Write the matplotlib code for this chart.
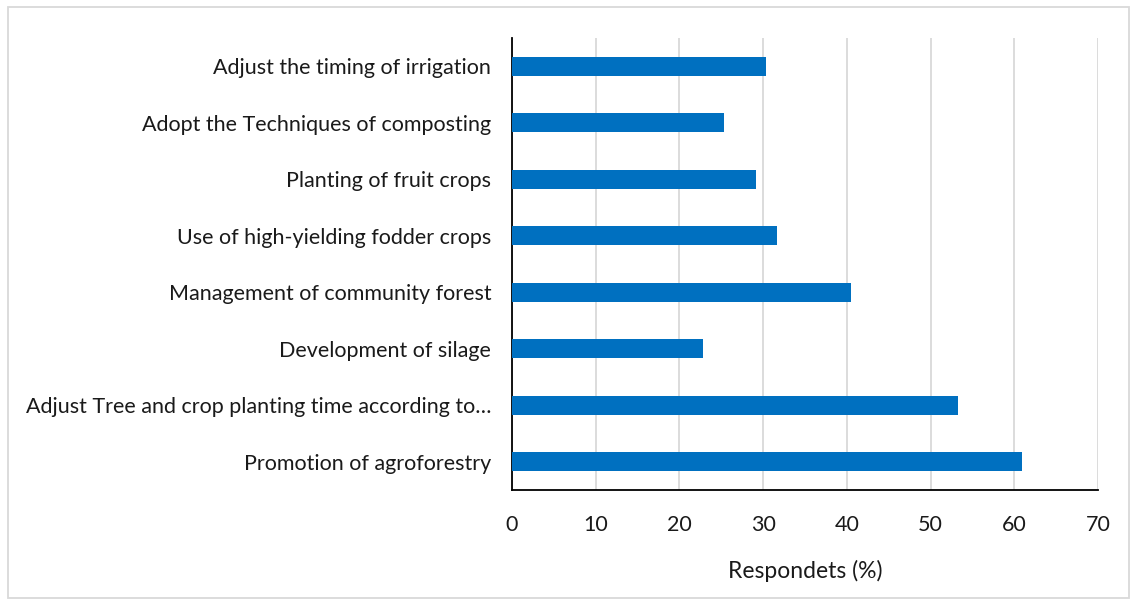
import matplotlib
matplotlib.use("Agg")
import matplotlib.pyplot as plt
from matplotlib.patches import Rectangle

labels = ["Promotion of agroforestry",
          "Adjust Tree and crop planting time according to…",
          "Development of silage",
          "Management of community forest",
          "Use of high-yielding fodder crops",
          "Planting of fruit crops",
          "Adopt the Techniques of composting",
          "Adjust the timing of irrigation"]
values = [60.9, 53.3, 22.8, 40.5, 31.6, 29.1, 25.3, 30.4]
xticks = [0, 10, 20, 30, 40, 50, 60, 70]

plt.rcParams.update({"font.family": ["Lato", "DejaVu Sans"], "font.size": 15.5})
BLUE = "#0070c0"

fig = plt.figure(figsize=(11.31, 6), dpi=100)
ax = fig.add_axes([512/1131, 1-490/600, (1098-512)/1131, (490-38)/600])
ax.barh(range(len(values)), values, height=0.34, color=BLUE, zorder=3)
ax.set_yticks(range(len(labels)))
ax.set_yticklabels(labels, color="#1a1a1a")
ax.set_ylim(-0.5, len(values)-0.5)
ax.set_xlim(0, 70)
ax.set_xticks(xticks)
ax.tick_params(length=0, pad=18, axis="x", labelcolor="#1a1a1a")
ax.tick_params(length=0, pad=15, axis="y")
ax.grid(axis="x", color="#d9d9d9", linewidth=1.3, zorder=0)
ax.grid(axis="y", visible=False)
for s in ["top", "right"]:
    ax.spines[s].set_visible(False)
for s in ["left", "bottom"]:
    ax.spines[s].set_color("black")
    ax.spines[s].set_linewidth(1.3)
ax.set_xlabel("Respondets (%)", labelpad=18, color="#1a1a1a", fontsize=16.5)

fig.patches.append(Rectangle((8/1131, 2/600), 1-10/1131, 1-9/600, transform=fig.transFigure,
                             fill=False, edgecolor="#d9d9d9", linewidth=1.3))
fig.savefig("out.png", dpi=100)
